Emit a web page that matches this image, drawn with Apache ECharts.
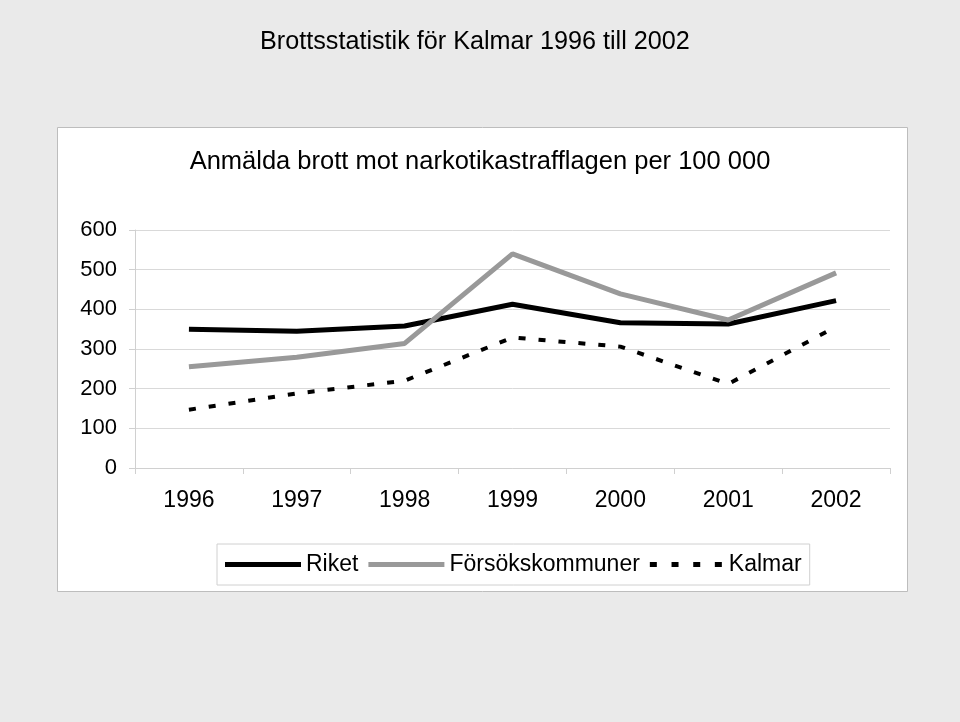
<!DOCTYPE html>
<html>
<head>
<meta charset="utf-8">
<script src="https://cdn.jsdelivr.net/npm/echarts@6/dist/echarts.min.js"></script>
<style>html,body{margin:0;padding:0;background:#eaeaea;}#c{width:960px;height:722px;}</style>
</head>
<body>
<div id="c"></div>
<script>
const years = ['1996','1997','1998','1999','2000','2001','2002'];
const riket = [350, 345, 358, 413, 366, 363, 422];
const forsok = [255, 279, 314, 540, 439, 373, 492];
const kalmar = [147, 188, 220, 329, 306, 212, 356];
const yTicks = [0, 100, 200, 300, 400, 500, 600];
const seriesNames = ['Riket', 'Försökskommuner', 'Kalmar'];

const font = 'Liberation Sans, Arial, sans-serif';
const dashIcon = 'path://M0,0h7v5h-7z M21.7,0h7v5h-7z M43.4,0h7v5h-7z M65,0h7v5h-7z';
const chart = echarts.init(document.getElementById('c'));
chart.setOption({
  backgroundColor: '#eaeaea',
  animation: false,
  graphic: [{
    type: 'rect', z: -10, silent: true,
    shape: { x: 57.5, y: 127.5, width: 850, height: 464 },
    style: { fill: '#ffffff', stroke: '#bdbdbd', lineWidth: 1 }
  }],
  title: [{
    text: 'Brottsstatistik för Kalmar 1996 till 2002',
    left: 255, top: 25,
    textStyle: { fontFamily: font, fontSize: 25.2, fontWeight: 'normal', color: '#000' }
  }, {
    text: 'Anmälda brott mot narkotikastrafflagen per 100 000',
    left: 'center', top: 144,
    textStyle: { fontFamily: font, fontSize: 25.5, fontWeight: 'normal', color: '#000' }
  }],
  legend: {
    left: 217, top: 544,
    padding: [9, 8],
    borderColor: '#d0d0d0', borderWidth: 1,
    backgroundColor: '#fff',
    itemWidth: 76, itemHeight: 5, itemGap: 10,
    textStyle: { fontFamily: font, fontSize: 23, color: '#000' },
    data: [
      { name: seriesNames[0], icon: 'rect' },
      { name: seriesNames[1], icon: 'rect' },
      { name: seriesNames[2], icon: dashIcon }
    ]
  },
  grid: { left: 135, right: 70, top: 230, bottom: 254, containLabel: false },
  xAxis: {
    type: 'category', data: years, boundaryGap: true,
    axisLine: { lineStyle: { color: '#d0d0d0', width: 1 } },
    axisTick: { show: true, length: 6, lineStyle: { color: '#d0d0d0' } },
    axisLabel: { fontFamily: font, fontSize: 23, color: '#000', margin: 21 }
  },
  yAxis: {
    type: 'value', min: 0, max: 600, interval: 100,
    axisLine: { show: true, lineStyle: { color: '#d0d0d0', width: 1 } },
    axisTick: { show: true, length: 6, lineStyle: { color: '#d0d0d0' } },
    splitLine: { lineStyle: { color: '#d9d9d9', width: 1 } },
    axisLabel: { fontFamily: font, fontSize: 22, color: '#000', margin: 18,
      formatter: v => yTicks.includes(v) ? String(v) : '' }
  },
  series: [{
    name: seriesNames[0], type: 'line', data: riket, symbol: 'none',
    lineStyle: { color: '#000', width: 5 }, itemStyle: { color: '#000' }
  }, {
    name: seriesNames[1], type: 'line', data: forsok, symbol: 'none',
    lineStyle: { color: '#999999', width: 5 }, itemStyle: { color: '#999999' }
  }, {
    name: seriesNames[2], type: 'line', data: kalmar, symbol: 'none',
    lineStyle: { color: '#000', width: 4, type: [7, 13] }, itemStyle: { color: '#000' }
  }]
});
</script>
</body>
</html>
